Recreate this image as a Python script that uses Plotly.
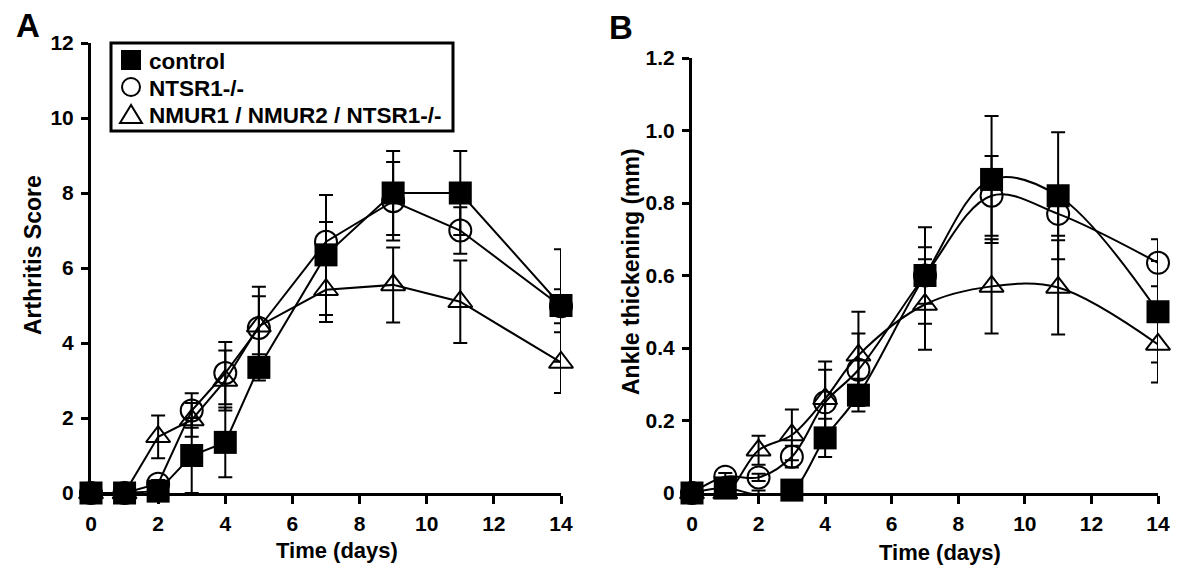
import plotly.graph_objects as go

# ---------------- data ----------------
days = [0, 1, 2, 3, 4, 5, 7, 9, 11, 14]
x_ticks = [0, 2, 4, 6, 8, 10, 12, 14]

series_names = ["control", "NTSR1-/-", "NMUR1 / NMUR2 / NTSR1-/-"]

# Panel A: Arthritis score
ctrl_A = [0, 0, 0.05, 1.0, 1.35, 3.35, 6.35, 8.0, 8.0, 5.0]
ctrl_A_err = [0, 0, 0, 1.0, 0.93, 0.35, 1.6, 1.12, 1.12, 1.5]
ntsr_A = [0, 0, 0.25, 2.2, 3.2, 4.4, 6.7, 7.78, 7.0, 4.98]
ntsr_A_err = [0, 0, 0.1, 0.46, 0.83, 0.85, 0.53, 1.05, 0.62, 0.45]
triple_A = [0, 0, 1.5, 1.95, 3.0, 4.45, 5.42, 5.55, 5.1, 3.48]
triple_A_err = [0, 0, 0.57, 0.45, 0.8, 1.05, 0.86, 1.0, 1.1, 0.81]

yA_ticks = [0, 2, 4, 6, 8, 10, 12]
yA_ticktext = ["0", "2", "4", "6", "8", "10", "12"]

# Panel B: Ankle thickening (mm)
ctrl_B = [0, 0.014, -0.005, 0.008, 0.152, 0.27, 0.6, 0.865, 0.82, 0.5]
ctrl_B_err = [0, 0.005, 0.012, 0.01, 0.053, 0.045, 0.133, 0.175, 0.175, 0.14]
ntsr_B = [0, 0.045, 0.043, 0.1, 0.25, 0.34, 0.6, 0.82, 0.77, 0.635]
ntsr_B_err = [0, 0.01, 0.01, 0.03, 0.09, 0.1, 0.078, 0.11, 0.06, 0.065]
triple_B = [0, 0, 0.118, 0.16, 0.26, 0.38, 0.52, 0.57, 0.567, 0.41]
triple_B_err = [0, 0, 0.04, 0.07, 0.103, 0.12, 0.125, 0.13, 0.13, 0.105]

yB_ticks = [0, 0.2, 0.4, 0.6, 0.8, 1.0, 1.2]
yB_ticktext = ["0", "0.2", "0.4", "0.6", "0.8", "1.0", "1.2"]

# ---------------- style ----------------
FONT = "Liberation Sans, Arial, sans-serif"
BLACK = "black"
W, H = 1200, 586

def px(x):
    return x / W

def py(y):
    return (H - y) / H

def err(arr):
    return dict(type="data", array=arr, visible=True, thickness=2, width=7, color=BLACK)

styles = {
    "control": dict(symbol="square", size=23, color=BLACK, opacity=1, line=dict(width=0)),
    "NTSR1-/-": dict(symbol="circle-open", size=22, color=BLACK, opacity=1,
                     line=dict(width=2, color=BLACK)),
    "NMUR1 / NMUR2 / NTSR1-/-": dict(symbol="triangle-up-open", size=21, color=BLACK,
                                       opacity=1, line=dict(width=2, color=BLACK)),
}

fig = go.Figure()

panelA = [(triple_A, triple_A_err, series_names[2]),
          (ntsr_A, ntsr_A_err, series_names[1]),
          (ctrl_A, ctrl_A_err, series_names[0])]
panelB = [(triple_B, triple_B_err, series_names[2]),
          (ntsr_B, ntsr_B_err, series_names[1]),
          (ctrl_B, ctrl_B_err, series_names[0])]

for vals, e, name in panelA:
    fig.add_trace(go.Scatter(x=days, y=vals, mode="lines+markers", name=name,
                             line=dict(color=BLACK, width=2),
                             marker=styles[name], error_y=err(e),
                             cliponaxis=False, showlegend=False,
                             xaxis="x", yaxis="y"))

for vals, e, name in panelB:
    mk = dict(styles[name])
    if name == "control":
        # no visible square at day 2 in the reference
        mk["size"] = [0 if d == 2 else styles[name]["size"] for d in days]
    fig.add_trace(go.Scatter(x=days, y=vals, mode="lines+markers", name=name,
                             line=dict(color=BLACK, width=2, shape="spline", smoothing=1),
                             marker=mk, error_y=err(e),
                             cliponaxis=False, showlegend=False,
                             xaxis="x2", yaxis="y2"))

tickfont = dict(family=FONT, size=21, color=BLACK, weight="bold")

def xaxis(domain, anchor):
    return dict(domain=domain, anchor=anchor, range=[0, 14], tickvals=x_ticks,
                ticktext=[str(t) for t in x_ticks], showline=True, linewidth=3,
                linecolor=BLACK, ticks="outside", ticklen=8, tickwidth=3,
                tickcolor=BLACK, showgrid=False, zeroline=False, tickfont=tickfont,
                ticklabelstandoff=2, automargin=False)

def yaxis(domain, anchor, rng, tv, tt):
    return dict(domain=domain, anchor=anchor, range=rng, tickvals=tv, ticktext=tt,
                showline=True, linewidth=3, linecolor=BLACK, ticks="outside",
                ticklen=7, tickwidth=3, tickcolor=BLACK, showgrid=False,
                zeroline=False, tickfont=tickfont, ticklabelstandoff=3,
                automargin=False)

fig.update_layout(
    width=W, height=H,
    margin=dict(l=0, r=0, t=0, b=0, pad=0, autoexpand=False),
    paper_bgcolor="white", plot_bgcolor="white",
    font=dict(family=FONT, color=BLACK),
    xaxis=xaxis([px(91), px(561)], "y"),
    yaxis=yaxis([py(493), py(43)], "x", [0, 12], yA_ticks, yA_ticktext),
    xaxis2=xaxis([px(692), px(1158)], "y2"),
    yaxis2=yaxis([py(493), py(58)], "x2", [0, 1.2], yB_ticks, yB_ticktext),
    showlegend=False,
)

def ann(text, x, y, size, angle=0, xanchor="center"):
    fig.add_annotation(text=text, x=px(x), y=py(y), xref="paper", yref="paper",
                       showarrow=False, xanchor=xanchor, yanchor="middle",
                       textangle=angle,
                       font=dict(family=FONT, size=size, color=BLACK, weight="bold"))

# ---- legend box (panel A) ----
fig.add_shape(type="rect", xref="paper", yref="paper",
              x0=px(111), x1=px(453), y0=py(131), y1=py(43),
              line=dict(color=BLACK, width=3), fillcolor="white", layer="above")
# square
fig.add_shape(type="rect", xref="paper", yref="paper",
              x0=px(121), x1=px(141), y0=py(70), y1=py(50),
              line=dict(color=BLACK, width=0), fillcolor=BLACK, layer="above")
# circle
fig.add_shape(type="circle", xref="paper", yref="paper",
              x0=px(122), x1=px(140), y0=py(96), y1=py(78),
              line=dict(color=BLACK, width=2), fillcolor="rgba(0,0,0,0)", layer="above")
# triangle
tri = "M {:.5f},{:.5f} L {:.5f},{:.5f} L {:.5f},{:.5f} Z".format(
    px(131), py(105), px(120), py(123), px(142), py(123))
fig.add_shape(type="path", xref="paper", yref="paper", path=tri,
              line=dict(color=BLACK, width=2), fillcolor="rgba(0,0,0,0)", layer="above")

legend_rows_y = [60, 87, 114]
for name, yy in zip(series_names, legend_rows_y):
    ann(name, 147, yy + 1, 22.5, xanchor="left")

ann("A", 28, 26, 33)
ann("B", 621, 27, 33)
ann("Arthritis Score", 33, 255, 23, -90)
ann("Ankle thickening (mm)", 631, 272, 23, -90)
ann("Time (days)", 337, 550, 22)
ann("Time (days)", 940, 552, 22)

fig.write_html(
    "out.html",
    config={"displayModeBar": False},
    post_script="document.body.style.margin='0px';document.body.style.overflow='hidden';",
)
